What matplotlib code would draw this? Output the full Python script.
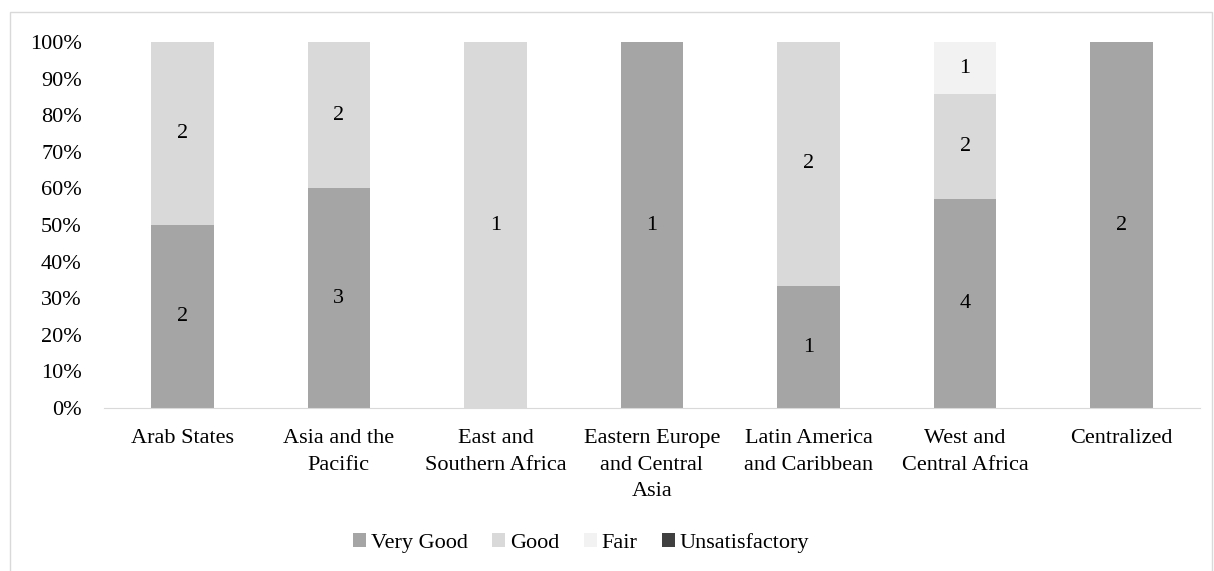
import numpy as np
import matplotlib.pyplot as plt
from matplotlib.patches import Rectangle

regions = ["Arab States", "Asia and the\nPacific", "East and\nSouthern Africa",
           "Eastern Europe\nand Central\nAsia", "Latin America\nand Caribbean",
           "West and\nCentral Africa", "Centralized"]
very_good = [2, 3, 0, 1, 1, 4, 2]
good = [2, 2, 1, 0, 2, 2, 0]
fair = [0, 0, 0, 0, 0, 1, 0]
unsatisfactory = [0, 0, 0, 0, 0, 0, 0]

series = [("Very Good", very_good, "#a5a5a5"),
          ("Good", good, "#d9d9d9"),
          ("Fair", fair, "#f2f2f2"),
          ("Unsatisfactory", unsatisfactory, "#404040")]

plt.rcParams["font.family"] = ["Liberation Serif", "DejaVu Serif"]
plt.rcParams["font.size"] = 16

W, H = 1214, 571
fig = plt.figure(figsize=(W / 100, H / 100), dpi=100)
ax = fig.add_axes([104 / W, 1 - 408 / H, 1096 / W, 366 / H])

totals = np.sum([s[1] for s in series], axis=0)
x = np.arange(len(regions))
bottom = np.zeros(len(regions))
for name, vals, color in series:
    pct = np.array(vals) / totals
    ax.bar(x, pct, 0.4, bottom=bottom, color=color, label=name)
    for i, v in enumerate(vals):
        if v > 0:
            ax.text(x[i], bottom[i] + pct[i] / 2, str(v), ha="center", va="center")
    bottom += pct

ax.set_xlim(-0.5, len(regions) - 0.5)
ax.set_ylim(0, 1)
ticks = np.arange(0, 1.01, 0.1)
ax.set_yticks(ticks)
ax.set_yticklabels([f"{int(round(t * 100))}%" for t in ticks])
ax.set_xticks(x)
ax.set_xticklabels(regions, linespacing=1.55, va="top")
for s in ["top", "right", "left"]:
    ax.spines[s].set_visible(False)
ax.spines["bottom"].set_color("#d9d9d9")
ax.tick_params(axis="both", length=0)
ax.tick_params(axis="x", pad=15)
ax.tick_params(axis="y", pad=16)

ax.legend(loc="center", bbox_to_anchor=((581 - 104) / 1096, ((H - 543) - (H - 408)) / 366),
          ncol=4, frameon=False, handlelength=0.6, handleheight=0.6, handletextpad=0.2,
          columnspacing=1.1, borderaxespad=0)

fig.patches.append(Rectangle((10 / W, -0.05), 1202 / W, 1.05 - 12 / H,
                             transform=fig.transFigure, fill=False,
                             edgecolor="#d9d9d9", linewidth=1))

fig.savefig("out.png", dpi=100)
